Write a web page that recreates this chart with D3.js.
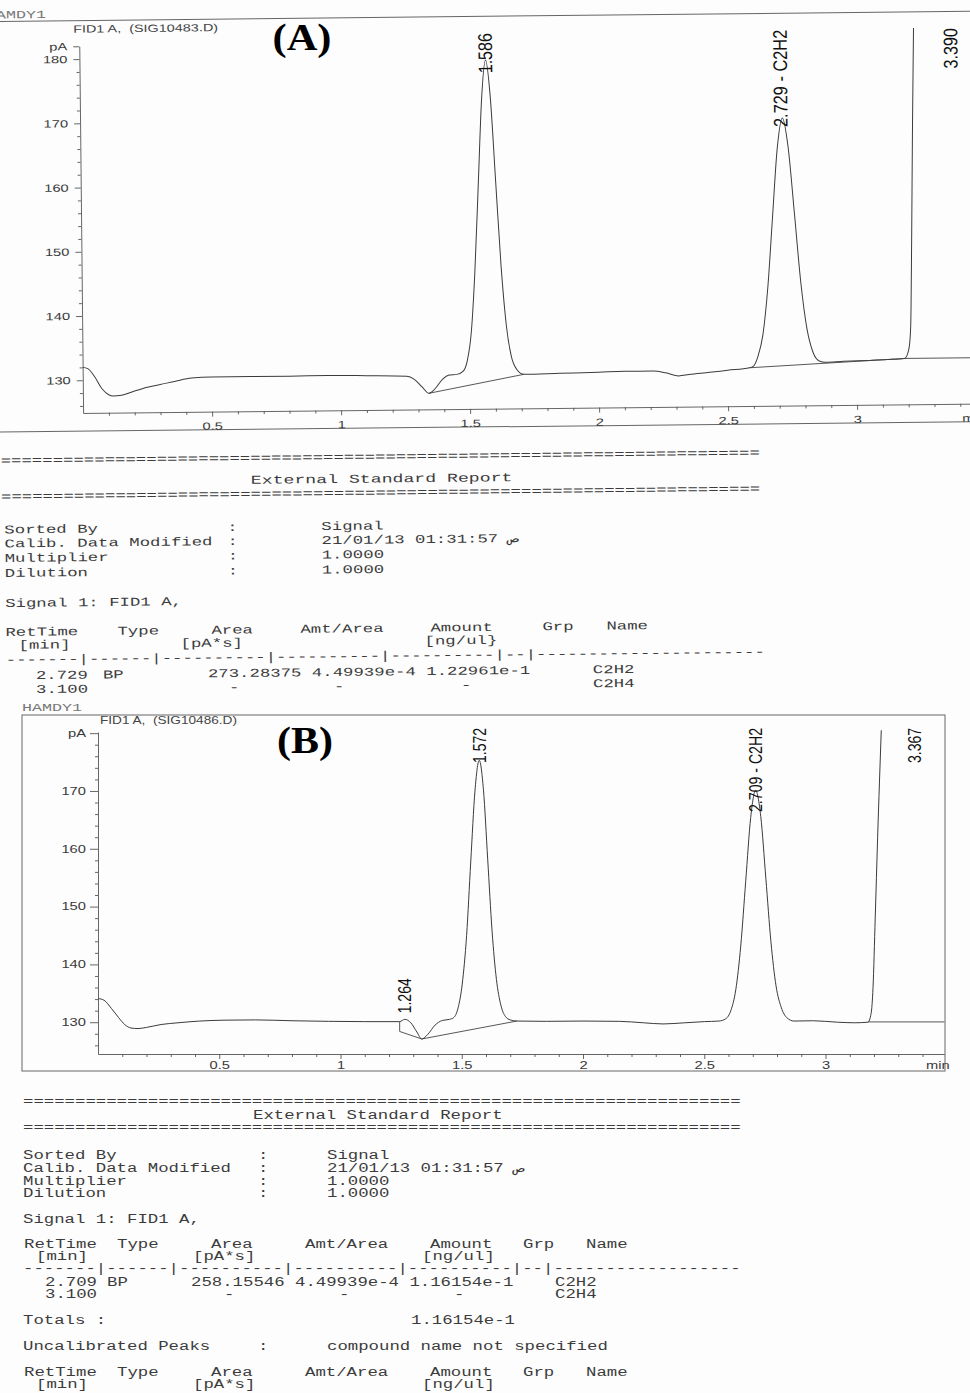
<!DOCTYPE html>
<html>
<head>
<meta charset="utf-8">
<script src="https://cdn.jsdelivr.net/npm/d3@7"></script>
<style>
  body { margin: 0; background: #fff; }
  svg { display: block; }
</style>
</head>
<body>
<svg id="page" width="970" height="1393"></svg>
<script>
// ---- values (time in min, signal in pA) ----
const signalA = [
  [0.000,132.0],[0.020,131.8],[0.045,130.6],[0.075,128.6],[0.100,127.7],[0.116,127.5],
  [0.150,127.6],[0.190,128.1],[0.250,128.8],[0.300,129.2],[0.360,129.7],[0.422,130.15],
  [0.500,130.3],[0.650,130.3],[0.800,130.3],[0.950,130.35],[1.100,130.25],[1.256,130.1],
  [1.285,129.6],[1.315,128.4],[1.341,127.4],[1.365,128.1],[1.395,129.6],[1.420,130.2],
  [1.450,130.3],[1.475,130.8],[1.491,132.4],[1.508,136.9],[1.524,146.2],[1.541,160.0],
  [1.5575,173.4],[1.574,179.2],[1.5905,173.6],[1.608,160.5],[1.626,147.0],[1.644,137.8],
  [1.662,133.0],[1.682,131.0],[1.710,130.2],[1.850,130.3],[2.000,130.4],[2.100,130.5],
  [2.210,130.5],[2.260,130.2],[2.310,129.7],[2.350,129.9],[2.430,130.2],[2.500,130.5],
  [2.585,130.85],[2.600,131.1],[2.617,132.5],[2.638,136.0],[2.659,143.4],[2.680,154.3],
  [2.701,165.0],[2.722,169.7],[2.743,165.2],[2.765,154.8],[2.787,144.0],[2.809,136.8],
  [2.831,133.2],[2.855,131.8],[2.880,131.6],[2.950,131.7],[3.007,131.75],[3.050,131.8],
  [3.120,131.9],[3.186,132.05],[3.203,133.5],[3.211,137.0],[3.218,150.0],[3.226,168.0],
  [3.234,183.5]
];
const signalB = [
  [0.000,134.1],[0.025,133.8],[0.055,132.4],[0.085,130.8],[0.110,129.6],[0.136,129.0],
  [0.165,128.9],[0.200,129.1],[0.260,129.6],[0.330,129.9],[0.420,130.2],[0.520,130.35],
  [0.650,130.4],[0.800,130.25],[0.950,130.15],[1.100,130.1],[1.244,130.1],[1.265,130.5],
  [1.290,129.9],[1.315,128.3],[1.335,127.1],[1.360,127.9],[1.390,129.5],[1.420,130.3],
  [1.450,130.5],[1.467,130.8],[1.485,132.5],[1.502,136.6],[1.520,145.0],[1.537,157.7],
  [1.5545,170.0],[1.572,175.3],[1.5895,170.2],[1.607,158.2],[1.625,145.8],[1.643,137.4],
  [1.661,133.0],[1.680,131.0],[1.700,130.4],[1.727,130.2],[1.850,130.15],[2.000,130.2],
  [2.150,130.15],[2.250,129.9],[2.330,129.7],[2.420,129.9],[2.500,130.1],[2.560,130.2],
  [2.589,130.6],[2.6095,132.0],[2.630,135.6],[2.6505,143.2],[2.671,154.4],[2.6915,165.4],
  [2.712,170.1],[2.733,165.6],[2.754,154.9],[2.775,143.9],[2.796,136.3],[2.818,132.5],
  [2.840,130.8],[2.870,130.2],[2.950,130.25],[3.050,130.0],[3.120,129.9],[3.175,130.0],
  [3.188,131.5],[3.196,136.0],[3.205,148.0],[3.215,162.0],[3.230,180.5]
];

// integration baselines drawn by the integrator
const baselinesA = [
  [[1.341,127.4],[1.710,130.2]],
  [[2.585,130.85],[3.186,132.05]],
  [[3.186,132.05],[3.48,132.05]]
];
const baselinesB = [
  [[1.244,130.1],[1.244,128.4],[1.335,127.1],[1.727,130.2]],
  [[3.175,130.05],[3.49,130.05]]
];

// peak annotations (retention time, text, apex height)
const peaksA = [
  {t: 1.586, text: "1.586", apex: 179.2},
  {t: 2.729, text: "2.729 - C2H2", apex: 169.7},
  {t: 3.390, text: "3.390", apex: 183.5}
];
const peaksB = [
  {t: 1.264, text: "1.264", apex: 130.5},
  {t: 1.572, text: "1.572", apex: 175.3},
  {t: 2.709, text: "2.709 - C2H2", apex: 170.1},
  {t: 3.367, text: "3.367", apex: 180.5}
];

// axis ticks
const xTicks = [0.5, 1, 1.5, 2, 2.5, 3];
const xTickLabels = ["0.5", "1", "1.5", "2", "2.5", "3"];
const yTicksA = [130, 140, 150, 160, 170, 180, 182];
const yTickLabelsA = ["130", "140", "150", "160", "170", "180", "pA"];
const yTicksB = [130, 140, 150, 160, 170, 180];
const yTickLabelsB = ["130", "140", "150", "160", "170", "pA"];
const yMinorA = [126,128,132,134,136,138,142,144,146,148,152,154,156,158,162,164,166,168,172,174,176,178];
const yMinorB = [126,128,132,134,136,138,142,144,146,148,152,154,156,158,162,164,166,168,172,174,176,178];

const SX = 1.4; // the scan is stretched sideways
const SANS = "'Liberation Sans', Arial, sans-serif";
const MONO = "'Liberation Mono', 'DejaVu Sans Mono', monospace";
const SERIF = "'Liberation Serif', 'Times New Roman', serif";

var svg = d3.select("#page");
svg.append("rect").attr("width", 970).attr("height", 1393).attr("fill", "#fdfdfd");

function drawChart(g, p) {
  var x = d3.scaleLinear().domain(p.xDomain).range(p.xRange);
  var y = d3.scaleLinear().domain(p.yDomain).range(p.yRange);
  var left = p.xRange[0], bottom = p.yRange[0];
  var xMinor = d3.range(0.1, p.xDomain[1], 0.1).filter(v => Math.abs(v * 2 - Math.round(v * 2)) > 0.01);

  var axes = [];
  axes.push(g.append("g").attr("transform", "translate(" + left + ",0)")
    .call(d3.axisLeft(y).tickValues(p.yTicks)
      .tickFormat(d => p.yTickLabels[p.yTicks.indexOf(d)])
      .tickSize(p.yTickSize).tickPadding(p.yTickPad).tickSizeOuter(0)));
  var ym = g.append("g").attr("transform", "translate(" + left + ",0)")
    .call(d3.axisLeft(y).tickValues(p.yMinor).tickFormat("").tickSize(3));
  ym.select(".domain").remove();
  axes.push(ym);

  axes.push(g.append("g").attr("transform", "translate(0," + bottom + ")")
    .call(d3.axisBottom(x).tickValues(xTicks)
      .tickFormat(d => xTickLabels[xTicks.indexOf(d)])
      .tickSize(5).tickPadding(p.xTickPad).tickSizeOuter(0)));
  var xm = g.append("g").attr("transform", "translate(0," + bottom + ")")
    .call(d3.axisBottom(x).tickValues(xMinor).tickFormat("").tickSize(3));
  xm.select(".domain").remove();
  axes.push(xm);

  axes.forEach(a => a.attr("color", "#555").attr("font-family", SANS).attr("font-size", 10.5));
  g.selectAll(".tick text").attr("transform", "scale(" + SX + ",1)").attr("fill", "#3a3a3a");
  g.selectAll(".domain, .tick line").attr("stroke-width", 0.9);

  // "min" unit at the right end of the time axis
  g.append("text").attr("x", p.minX / SX).attr("y", bottom + 5 + p.xTickPad)
    .attr("dy", "0.71em").attr("transform", "scale(" + SX + ",1)")
    .attr("font-family", SANS).attr("font-size", 10.5).attr("fill", "#3a3a3a").text("min");

  var line = d3.line().x(d => x(d[0])).y(d => y(d[1]));
  g.append("path").datum(p.signal)
    .attr("fill", "none").attr("stroke", "#3b3b3b").attr("stroke-width", 1)
    .attr("d", line.curve(d3.curveMonotoneX));
  p.baselines.forEach(b => {
    g.append("path").datum(b)
      .attr("fill", "none").attr("stroke", "#444").attr("stroke-width", 0.9)
      .attr("d", d3.line().x(d => x(d[0])).y(d => y(d[1])));
  });

  p.peaks.forEach(pk => {
    var len = pk.text.length * p.labelPitch;
    var top = y(pk.apex) - 6 - len;
    if (top < p.labelTop) top = p.labelTop;
    g.append("text")
      .attr("transform", "translate(" + (x(pk.t) + p.labelDx) + "," + top + ") scale(" + SX + ",1) rotate(-90)")
      .attr("text-anchor", "end").attr("dy", "0.35em")
      .attr("textLength", len).attr("lengthAdjust", "spacingAndGlyphs")
      .attr("font-family", SANS).attr("font-size", p.labelSize).attr("fill", "#111")
      .text(pk.text);
  });
}

function putText(g, x, y, s, o) {
  return g.append("text").attr("x", x).attr("y", y)
    .attr("font-family", o.font).attr("font-size", o.size).attr("fill", o.fill || "#3c3c3c")
    .attr("textLength", o.len).attr("lengthAdjust", "spacingAndGlyphs")
    .style("white-space", "pre").text(s);
}

function drawReport(g, rows, cw, size) {
  rows.forEach(r => r.items.forEach(it => {
    putText(g, it[0], r.y + 4, it[1], {font: MONO, size: size, len: it[1].length * (it[2] || cw)});
  }));
}

// ================= panel A (scanned slightly rotated) =================
var gA = svg.append("g").attr("transform", "rotate(-0.6,520,400)");

gA.append("line").attr("x1", -30).attr("x2", 1000).attr("y1", 16).attr("y2", 16).attr("stroke", "#666");
gA.append("line").attr("x1", -30).attr("x2", 1000).attr("y1", 426.5).attr("y2", 426.5).attr("stroke", "#666");
putText(gA, -10, 13, "HAMDY1", {font: MONO, size: 11, len: 60, fill: "#777"});
putText(gA, 77, 28, "FID1 A,  (SIG10483.D)", {font: SANS, size: 10.5, len: 145, fill: "#444"});

drawChart(gA, {
  xDomain: [0, 3.48], xRange: [83, 83 + 3.48 * 258],
  yDomain: [124.9, 182], yRange: [408.4, 41.66],
  yTicks: yTicksA, yTickLabels: yTickLabelsA, yMinor: yMinorA,
  yTickSize: 6, yTickPad: 2.6, xTickPad: 5.6, minX: 962,
  signal: signalA, baselines: baselinesA, peaks: peaksA,
  labelTop: 32.6, labelPitch: 8.1, labelDx: -3.5, labelSize: 14
});

var reportA = [
  {y: 455, items: [[0, "=".repeat(73)]]},
  {y: 477, items: [[250, "External Standard Report", 10.9]]},
  {y: 491, items: [[0, "=".repeat(73)]]},
  {y: 524, items: [[3, "Sorted By"], [226, ":"], [320, "Signal"]]},
  {y: 538, items: [[3, "Calib. Data Modified"], [226, ":"], [320, "21/01/13 01:31:57 ص"]]},
  {y: 552.5, items: [[3, "Multiplier"], [226, ":"], [320, "1.0000"]]},
  {y: 567.5, items: [[3, "Dilution"], [226, ":"], [320, "1.0000"]]},
  {y: 597.6, items: [[3, "Signal 1: FID1 A,"]]},
  {y: 626.5, items: [[3, "RetTime"], [115, "Type"], [209, "Area"], [298, "Amt/Area"], [428, "Amount"], [540, "Grp"], [604, "Name"]]},
  {y: 639.5, items: [[16, "[min]"], [178, "[pA*s]"], [422, "[ng/ul}"]]},
  {y: 654, items: [[3, "-------|------|----------|----------|----------|--|----------------------"]]},
  {y: 670, items: [[33, "2.729"], [100, "BP"], [205, "273.28375 4.49939e-4 1.22961e-1"], [590, "C2H2"]]},
  {y: 684, items: [[33, "3.100"], [226, "-"], [331, "-"], [458, "-"], [590, "C2H4"]]}
];
drawReport(gA, reportA, 10.4, 12);

svg.append("text").attr("x", 302).attr("y", 50).attr("text-anchor", "middle")
  .attr("font-family", SERIF).attr("font-weight", "bold").attr("font-size", 37)
  .attr("textLength", 59).attr("lengthAdjust", "spacingAndGlyphs").attr("fill", "#000").text("(A)");

// ================= panel B =================
var gB = svg.append("g");
gB.append("rect").attr("x", 22).attr("y", 715).attr("width", 923).attr("height", 356)
  .attr("fill", "none").attr("stroke", "#666");
putText(gB, 22, 711, "HAMDY1", {font: MONO, size: 11, len: 60, fill: "#777"});
putText(gB, 100, 724, "FID1 A,  (SIG10486.D)", {font: SANS, size: 10.5, len: 137, fill: "#444"});

drawChart(gB, {
  xDomain: [0, 3.49], xRange: [98, 98 + 3.49 * 242.5],
  yDomain: [124.5, 180.2], yRange: [1054, 732],
  yTicks: yTicksB, yTickLabels: yTickLabelsB, yMinor: yMinorB,
  yTickSize: 8, yTickPad: 0.6, xTickPad: 3, minX: 926,
  signal: signalB, baselines: baselinesB, peaks: peaksB,
  labelTop: 728, labelPitch: 7.0, labelDx: 0.5, labelSize: 13
});

var reportB = [
  {y: 1101, items: [[23, "=".repeat(69)]]},
  {y: 1115, items: [[253, "External Standard Report"]]},
  {y: 1127, items: [[23, "=".repeat(69)]]},
  {y: 1155, items: [[23, "Sorted By"], [258, ":"], [327, "Signal"]]},
  {y: 1168, items: [[23, "Calib. Data Modified"], [258, ":"], [327, "21/01/13 01:31:57 ص"]]},
  {y: 1181, items: [[23, "Multiplier"], [258, ":"], [327, "1.0000"]]},
  {y: 1193, items: [[23, "Dilution"], [258, ":"], [327, "1.0000"]]},
  {y: 1219, items: [[23, "Signal 1: FID1 A,"]]},
  {y: 1244, items: [[24, "RetTime"], [117, "Type"], [211, "Area"], [305, "Amt/Area"], [430, "Amount"], [523, "Grp"], [586, "Name"]]},
  {y: 1256, items: [[36, "[min]"], [193, "[pA*s]"], [422, "[ng/ul]"]]},
  {y: 1267.5, items: [[23, "-------|------|----------|----------|----------|--|------------------"]]},
  {y: 1282, items: [[45, "2.709"], [107, "BP"], [191, "258.15546 4.49939e-4 1.16154e-1"], [555, "C2H2"]]},
  {y: 1294, items: [[45, "3.100"], [224, "-"], [339, "-"], [454, "-"], [555, "C2H4"]]},
  {y: 1320, items: [[23, "Totals :"], [411, "1.16154e-1"]]},
  {y: 1346, items: [[23, "Uncalibrated Peaks"], [258, ":"], [327, "compound name not specified"]]},
  {y: 1372, items: [[24, "RetTime"], [117, "Type"], [211, "Area"], [305, "Amt/Area"], [430, "Amount"], [523, "Grp"], [586, "Name"]]},
  {y: 1384, items: [[36, "[min]"], [193, "[pA*s]"], [422, "[ng/ul]"]]}
];
drawReport(gB, reportB, 10.4, 12);

svg.append("text").attr("x", 305).attr("y", 753).attr("text-anchor", "middle")
  .attr("font-family", SERIF).attr("font-weight", "bold").attr("font-size", 38)
  .attr("textLength", 56).attr("lengthAdjust", "spacingAndGlyphs").attr("fill", "#000").text("(B)");
</script>
</body>
</html>
